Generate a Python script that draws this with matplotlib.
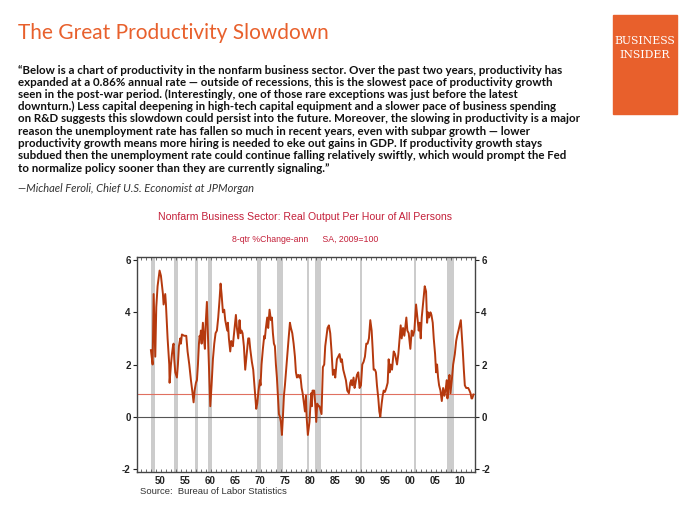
import matplotlib
matplotlib.use("Agg")
import matplotlib.pyplot as plt
from matplotlib.patches import Rectangle

# 8-quarter annualized % change
years = [1949.03, 1949.37, 1949.57, 1949.90, 1950.10, 1950.36, 1950.76, 1951.03, 1951.43, 1951.56,
         1951.89, 1952.03, 1952.36, 1952.69, 1952.76, 1953.03, 1953.23, 1953.43, 1953.56, 1953.69,
         1953.89, 1954.22, 1954.42, 1954.62, 1954.89, 1955.02, 1955.22, 1955.69, 1956.09, 1956.35,
         1956.69, 1957.02, 1957.28, 1957.55, 1957.75, 1958.02, 1958.22, 1958.42, 1958.62, 1958.75,
         1958.88, 1959.01, 1959.15, 1959.41, 1959.61, 1959.81, 1959.95, 1960.21, 1960.35, 1960.61,
         1960.88, 1961.14, 1961.41, 1961.68, 1961.94, 1962.21, 1962.47, 1962.74, 1962.94, 1963.14,
         1963.41, 1963.67, 1963.87, 1964.07, 1964.27, 1964.40, 1964.60, 1964.87, 1965.07, 1965.27,
         1965.40, 1965.53, 1965.80, 1966.00, 1966.20, 1966.47, 1966.73, 1966.93, 1967.13, 1967.33,
         1967.60, 1967.86, 1968.06, 1968.26, 1968.46, 1968.66, 1968.86, 1969.19, 1969.46, 1969.66,
         1970.06, 1970.26, 1970.52, 1970.79, 1970.92, 1971.12, 1971.39, 1971.66, 1971.79, 1971.99,
         1972.25, 1972.45, 1972.72, 1972.99, 1973.19, 1973.39, 1973.59, 1973.79, 1973.99, 1974.19,
         1974.39, 1974.59, 1974.79, 1974.99, 1975.19, 1975.39, 1975.59, 1975.79, 1976.19, 1976.53,
         1976.79, 1976.99, 1977.26, 1977.53, 1977.79, 1977.99, 1978.19, 1978.46, 1978.66, 1978.86,
         1979.13, 1979.33, 1979.59, 1979.79, 1979.99, 1980.12, 1980.37, 1980.70, 1980.90, 1981.04,
         1981.17, 1981.30, 1981.64, 1981.84, 1982.04, 1982.24, 1982.50, 1982.70, 1982.97, 1983.10,
         1983.37, 1983.64, 1983.84, 1984.04, 1984.30, 1984.57, 1984.84, 1985.10, 1985.37, 1985.64,
         1985.84, 1986.17, 1986.44, 1986.70, 1986.97, 1987.17, 1987.44, 1987.70, 1987.97, 1988.24,
         1988.57, 1988.84, 1989.04, 1989.24, 1989.50, 1989.70, 1989.90, 1990.17, 1990.44, 1990.70,
         1990.97, 1991.24, 1991.50, 1991.77, 1992.04, 1992.30, 1992.57, 1992.84, 1993.11, 1993.31,
         1993.51, 1993.77, 1993.97, 1994.17, 1994.44, 1994.64, 1994.84, 1995.11, 1995.31, 1995.51,
         1995.77, 1996.04, 1996.31, 1996.51, 1996.71, 1996.91, 1997.18, 1997.51, 1997.78, 1998.18,
         1998.44, 1998.91, 1999.11, 1999.38, 1999.64, 2000.04, 2000.24, 2000.51, 2000.84, 2001.11,
         2001.38, 2001.64, 2001.98, 2002.24, 2002.51, 2002.71, 2002.91, 2003.11, 2003.31, 2003.51,
         2003.71, 2003.98, 2004.18, 2004.38, 2004.58, 2004.85, 2005.05, 2005.31, 2005.51, 2005.78,
         2005.98, 2006.18, 2006.38, 2006.58, 2006.85, 2007.12, 2007.38, 2007.65, 2007.92, 2008.12,
         2008.25, 2008.45, 2008.65, 2008.85, 2009.12, 2009.39, 2009.72, 2009.99, 2010.19, 2010.45,
         2010.92, 2011.12, 2011.32, 2011.52, 2011.72, 2011.99, 2012.39, 2012.65, 2012.85, 2013.05,
         2013.19, 2013.45]
values = [2.55, 2.0, 4.7, 2.3, 4.2, 5.0, 5.6, 5.4, 4.7, 4.3,
          4.7, 4.3, 3.0, 2.0, 1.3, 2.0, 2.4, 2.7, 2.8, 2.2,
          1.7, 1.5, 2.0, 2.7, 3.0, 2.8, 3.15, 3.1, 3.1, 2.5,
          2.0, 1.4, 1.0, 0.55, 1.0, 1.3, 1.4, 2.0, 2.8, 3.1,
          3.0, 3.3, 2.8, 3.6, 3.0, 2.6, 3.5, 4.4, 3.5, 2.0,
          0.4, 1.2, 2.2, 2.8, 3.2, 3.3, 3.8, 4.5, 5.1, 4.7,
          4.0, 4.1, 3.7, 3.5, 3.3, 3.6, 3.0, 2.5, 2.9, 2.8,
          2.7, 3.0, 3.5, 3.9, 3.4, 3.0, 3.7, 3.2, 3.3, 3.2,
          2.7, 1.8, 2.2, 2.6, 3.0, 3.0, 2.6, 2.1, 1.8, 1.3,
          0.3, 0.5, 1.0, 1.4, 1.2, 2.0, 2.6, 3.1, 3.0, 3.4,
          3.8, 3.4, 4.1, 3.7, 3.8, 3.2, 2.8, 2.7, 2.0, 1.5,
          0.8, 0.1, 0.0, -0.2, -0.7, 0.0, 0.8, 1.2, 2.2, 3.0,
          3.6, 3.4, 3.2, 2.8, 2.3, 1.7, 1.5, 1.6, 1.5, 1.6,
          1.1, 0.9, 0.5, 0.2, 0.8, 0.0, -0.7, -0.2, 0.5, 0.9,
          0.4, 1.0, 1.0, 0.5, -0.2, 0.5, 0.4, 0.4, 0.2, 0.1,
          1.9, 2.0, 2.7, 3.0, 3.4, 3.5, 3.2, 2.5, 1.6, 1.8,
          1.5, 2.2, 2.3, 2.4, 2.1, 2.2, 1.8, 1.6, 1.4, 1.0,
          0.9, 1.3, 1.4, 1.2, 1.5, 1.1, 1.3, 1.6, 1.7, 1.1,
          1.2, 2.0, 2.1, 2.3, 2.8, 2.8, 3.0, 3.7, 3.3, 2.6,
          1.8, 1.8, 1.7, 1.2, 0.7, 0.2, 0.0, 0.5, 0.8, 1.0,
          0.95, 1.1, 1.3, 2.2, 1.7, 2.0, 1.8, 2.5, 2.4, 2.0,
          2.4, 3.5, 3.0, 3.4, 3.1, 3.8, 3.3, 3.2, 2.6, 3.3,
          3.1, 3.3, 4.3, 3.8, 3.3, 3.6, 3.0, 3.8, 4.2, 4.6,
          5.0, 4.8, 3.6, 4.0, 3.8, 4.0, 3.9, 3.6, 3.0, 2.4,
          1.7, 2.0, 1.5, 1.2, 1.0, 0.6, 1.1, 0.8, 1.1, 1.4,
          0.7, 1.2, 1.6, 0.9, 1.4, 2.0, 2.4, 2.9, 3.1, 3.3,
          3.7, 3.1, 2.5, 1.8, 1.2, 1.1, 1.1, 1.0, 0.9, 0.7,
          0.7, 0.85]

recession_start = [1949.03, 1953.69, 1957.75, 1960.48, 1970.19, 1974.12, 1980.18, 1981.77, 1990.77, 2001.51, 2008.25]
recession_end = [1949.77, 1954.42, 1958.42, 1961.21, 1970.99, 1975.32, 1980.64, 1983.04, 1991.24, 2002.04, 2009.65]

recent_rate = 0.86
yticks = [-2, 0, 2, 4, 6]
label_years = list(range(1950, 2011, 5))
label_text = ["%02d" % (y % 100) for y in label_years]

quote = [
    "\u201cBelow is a chart of productivity in the nonfarm business sector. Over the past two years, productivity has",
    "expanded at a 0.86% annual rate \u2014 outside of recessions, this is the slowest pace of productivity growth",
    "seen in the post-war period. (Interestingly, one of those rare exceptions was just before the latest",
    "downturn.) Less capital deepening in high-tech capital equipment and a slower pace of business spending",
    "on R&D suggests this slowdown could persist into the future. Moreover, the slowing in productivity is a major",
    "reason the unemployment rate has fallen so much in recent years, even with subpar growth \u2014 lower",
    "productivity growth means more hiring is needed to eke out gains in GDP. If productivity growth stays",
    "subdued then the unemployment rate could continue falling relatively swiftly, which would prompt the Fed",
    "to normalize policy sooner than they are currently signaling.\u201d",
]

orange = "#E8602C"
line_col = "#B5390E"

fig = plt.figure(figsize=(7, 5.25), dpi=100)

fig.text(18 / 700, 1 - 33 / 525, "The Great Productivity Slowdown", color=orange,
         fontsize=15, family="Lato", va="center", ha="left")

# Business Insider logo box
fig.patches.append(Rectangle((613 / 700, 1 - 114 / 525), 64 / 700, 99 / 525,
                             transform=fig.transFigure, color=orange, zorder=0))
for txt, ypx in [("BUSINESS", 41), ("INSIDER", 55)]:
    fig.text(645 / 700, 1 - ypx / 525, txt, color="white", fontsize=7.8,
             family="DejaVu Serif", ha="center", va="center")

for i, ln in enumerate(quote):
    fig.text(18 / 700, 1 - (70 + i * 12.25) / 525, ln, fontsize=8.25, weight="bold",
             family="Lato", color="#111111", va="center", ha="left")
fig.text(18 / 700, 1 - 189 / 525, "\u2014Michael Feroli, Chief U.S. Economist at JPMorgan",
         fontsize=8, style="italic", family="Lato", color="#333333", va="center")

fig.text(305 / 700, 1 - 217 / 525, "Nonfarm Business Sector: Real Output Per Hour of All Persons",
         fontsize=7.6, family="Liberation Sans", color="#C4203A", ha="center", va="center")
fig.text(305 / 700, 1 - 239 / 525, "8-qtr %Change-ann      SA, 2009=100",
         fontsize=6.3, family="Liberation Sans", color="#C4203A", ha="center", va="center")

ax = fig.add_axes([137 / 700, 1 - 472 / 525, 338 / 700, 215 / 525])
for s, e in zip(recession_start, recession_end):
    ax.axvspan(s, e, color="#cccccc", lw=0, zorder=0)
ax.axhline(0, color="#555555", lw=0.8, zorder=1)
ax.axhline(recent_rate, color="#E07060", lw=0.8, zorder=1)
ax.plot(years, values, color=line_col, lw=1.4, zorder=3)

ax.set_xlim(1946.25, 2013.75)
ax.set_ylim(-2.12, 6.12)
ax.set_yticks(yticks)
ax.set_yticklabels([str(v) for v in yticks])
ax.tick_params(axis="y", which="both", direction="out", length=3, labelsize=7,
               right=True, labelright=True, colors="#222222", pad=1.5)
ax.set_xticks([y + 0.8 for y in label_years])
ax.set_xticklabels(label_text)
ax.set_xticks(range(1947, 2014), minor=True)
ax.tick_params(axis="x", which="major", length=0, labelsize=7, pad=3, colors="#222222")
ax.tick_params(axis="x", which="minor", direction="in", length=2, top=True, color="#555555")
for lbl in ax.get_xticklabels() + ax.get_yticklabels():
    lbl.set_fontweight("bold")
    lbl.set_family("Liberation Sans")
for sp in ax.spines.values():
    sp.set_color("#444444")
    sp.set_linewidth(1.0)

fig.text(140 / 700, 1 - 492 / 525, "Source:  Bureau of Labor Statistics", fontsize=6.8,
         family="Liberation Sans", color="#333333", va="center")

fig.savefig("out.png", dpi=100)
